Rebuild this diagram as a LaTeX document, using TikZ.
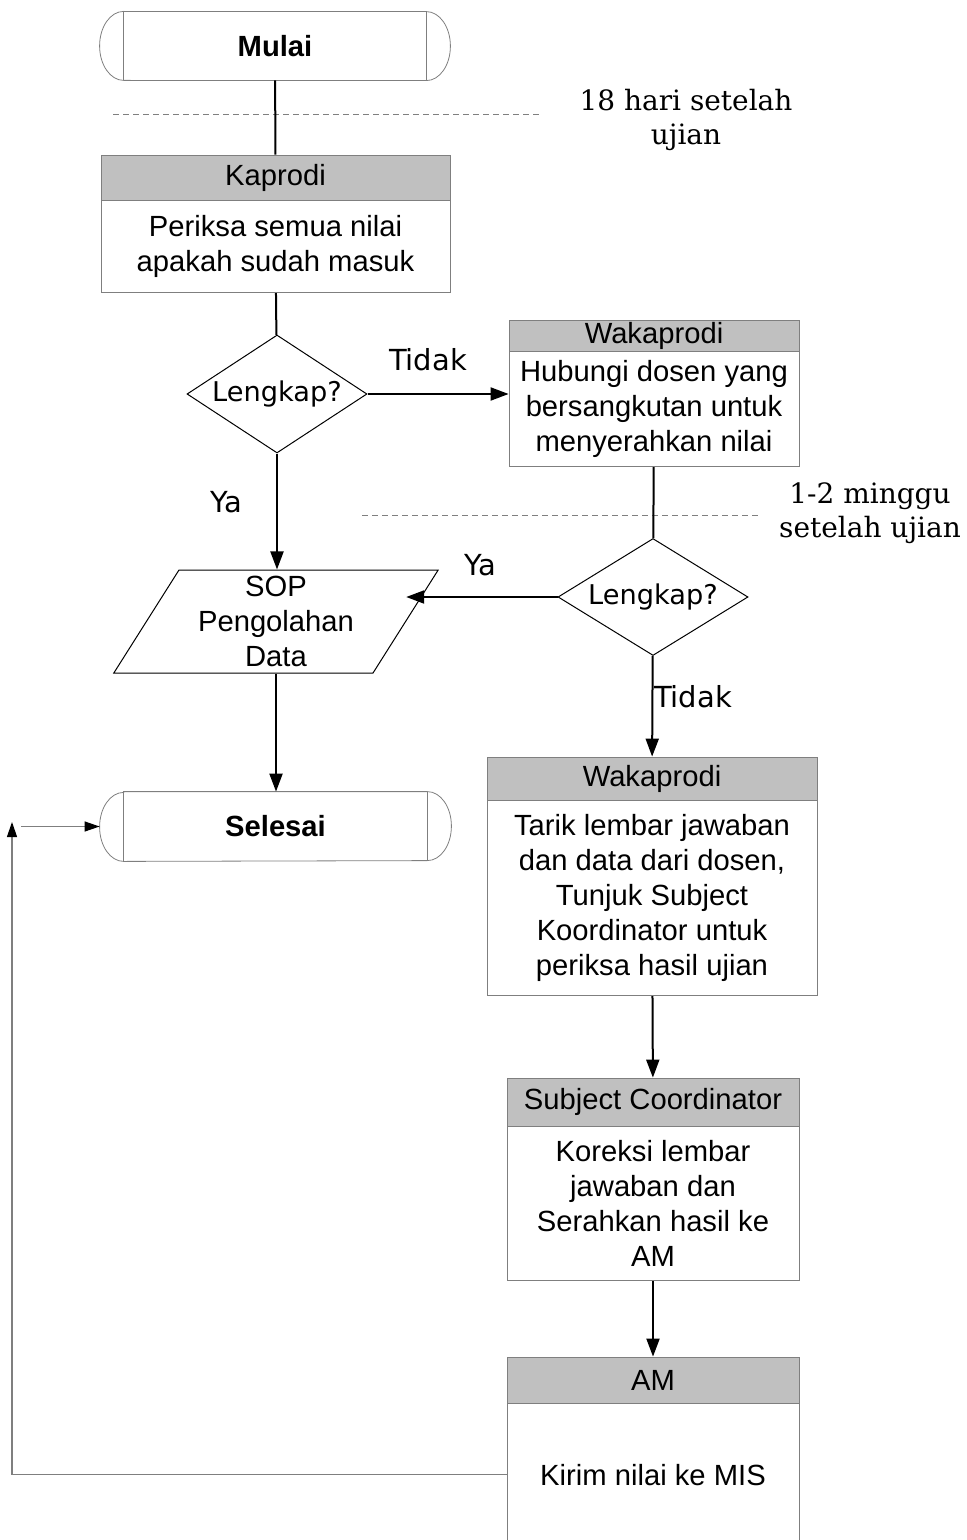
\documentclass[tikz,border=0pt]{standalone}
\usepackage{fontspec}
\setmainfont{Liberation Sans}
\newfontfamily\tagfont{DejaVu Sans}
\newfontfamily\notefont{DejaVu Serif}
\usetikzlibrary{shapes,arrows.meta,positioning}

\definecolor{headgray}{HTML}{C0C0C0}
\definecolor{linegray}{HTML}{7F7F7F}

\begin{document}
\begin{tikzpicture}[x=0.5pt,y=-0.5pt,
  every node/.style={font=\fontsize{14.6}{17.5}\selectfont,inner sep=0pt},
  term/.style={rectangle,minimum width=175pt,minimum height=34pt,font=\fontsize{14.6}{17.5}\selectfont\bfseries},
  head/.style={rectangle,draw=linegray,fill=headgray},
  body/.style={rectangle,draw=linegray,align=center},
  dec/.style={diamond,draw=black,line width=0.5pt,font=\tagfont\fontsize{13.6}{17}\selectfont},
  io/.style={trapezium,trapezium left angle=60,trapezium right angle=120,trapezium stretches=true,draw=black,line width=0.5pt,align=center},
  tag/.style={font=\tagfont\fontsize{14.5}{17}\selectfont},
  note/.style={font=\notefont\fontsize{14}{17}\selectfont,align=center},
  line/.style={draw,line width=1pt},
  arr/.style={line,-{Triangle[length=9pt,width=6.5pt]}},
  back/.style={draw=linegray,line width=0.6pt,-{Triangle[length=7.5pt,width=5pt,color=black]}},
  sep/.style={draw=linegray,dash pattern=on 3pt off 2pt,line width=0.5pt},
]
\useasboundingbox (0,0) rectangle (966,1540);

% left column
\node[term] (mulai) at (275,46) {Mulai};
\node[head,minimum width=174.5pt,minimum height=22.5pt] (kaprodi-h) at (275.5,177.5) {Kaprodi};
\node[body,minimum width=174.5pt,minimum height=46pt,below=0pt of kaprodi-h] (kaprodi) {Periksa semua nilai\\apakah sudah masuk};
\node[dec,minimum width=90pt,minimum height=59pt] (cek1) at (277,394) {\makebox[0pt]{Lengkap?}};
\node[io,minimum width=162.5pt,minimum height=51.5pt] (sop) at (276,621.5) {SOP\\Pengolahan\\Data};
\node[term,minimum width=175.5pt,minimum height=34.5pt] (selesai) at (275.5,826.5) {Selesai};

% right column
\node[head,minimum width=145pt,minimum height=15.5pt] (waka1-h) at (654,335.5) {Wakaprodi};
\node[body,minimum width=145pt,minimum height=57.5pt,below=0pt of waka1-h] (waka1) {Hubungi dosen yang\\bersangkutan untuk\\menyerahkan nilai};
\node[dec,minimum width=95pt,minimum height=58.5pt] (cek2) at (653,597) {\makebox[0pt]{Lengkap?}};
\node[head,minimum width=165pt,minimum height=21.5pt] (waka2-h) at (652,778.5) {Wakaprodi};
\node[body,minimum width=165pt,minimum height=97.5pt,below=0pt of waka2-h] (waka2) {Tarik lembar jawaban\\dan data dari dosen,\\Tunjuk Subject\\Koordinator untuk\\periksa hasil ujian};
\node[head,minimum width=146pt,minimum height=24pt] (sc-h) at (653,1102) {Subject Coordinator};
\node[body,minimum width=146pt,minimum height=77pt,below=0pt of sc-h] (sc) {Koreksi lembar\\jawaban dan\\Serahkan hasil ke\\AM};
\node[head,minimum width=146pt,minimum height=23pt] (am-h) at (653,1380) {AM};
\node[body,minimum width=146pt,minimum height=71pt,below=0pt of am-h] (am) {Kirim nilai ke MIS};

% rounded ends of the terminals
\foreach \t in {mulai,selesai} {
  \draw[linegray] ([xshift=12pt]\t.north west) -- ([xshift=-12pt]\t.north east)
    arc[start angle=90,end angle=-90,x radius=12pt,y radius=17.25pt]
    -- ([xshift=12pt]\t.south west)
    arc[start angle=270,end angle=90,x radius=12pt,y radius=17.25pt] -- cycle;
  \draw[linegray] ([xshift=12pt]\t.north west) -- ([xshift=12pt]\t.south west)
    ([xshift=-12pt]\t.north east) -- ([xshift=-12pt]\t.south east);
}

% time marks
\draw[sep] (113,115) -- (540,115);
\draw[sep] (362,515) -- (760,515);
\node[note] (batas1) at (686,120) {18 hari setelah\\ujian};
\node[note] (batas2) at (870,513) {1-2 minggu\\setelah ujian};

% flow
\draw[line] (mulai) -- (kaprodi-h);
\draw[line] (kaprodi) -- (cek1);
\draw[arr] (cek1.east) -- (cek1 -| waka1.west);
\draw[arr] (cek1.south) -- (cek1.south |- sop.north);
\draw[line] (waka1) -- (cek2);
\draw[arr] (cek2.west) -- (cek2.west -| sop.east);
\draw[arr] (sop.south) -- (sop.south |- selesai.north);
\draw[arr] (cek2) -- (waka2-h);
\draw[arr] (waka2) -- (sc-h);
\draw[arr] (sc) -- (am-h);
\coordinate (turn) at (12,822);
\draw[back] (am.west) -| (turn);
\draw[back] ([xshift=4.5pt]turn |- selesai.west) -- (selesai.west);

\node[tag] (tidak1) at (428,360) {Tidak};
\node[tag] (ya1) at (226,502) {Ya};
\node[tag] (ya2) at (480,565) {Ya};
\node[tag] (tidak2) at (693,697) {Tidak};
\end{tikzpicture}
\end{document}
